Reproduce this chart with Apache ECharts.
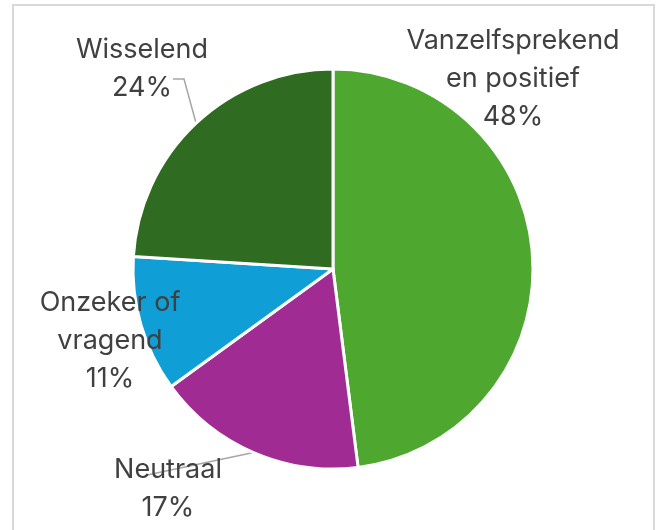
<!DOCTYPE html>
<html>
<head>
<meta charset="utf-8">
<script src="https://cdn.jsdelivr.net/npm/echarts@6/dist/echarts.min.js"></script>
<style>
  html, body { margin: 0; padding: 0; background: #fff; }
  #main { width: 657px; height: 530px; }
</style>
</head>
<body>
<div id="main"></div>
<script>
// data
var categories = ['Vanzelfsprekend\nen positief', 'Neutraal', 'Onzeker of\nvragend', 'Wisselend'];
var values = [48, 17, 11, 24];
var colors = ['#4EA72E', '#A02B93', '#0F9ED5', '#2F6B21'];
var showLine = [false, true, false, true];

// where each label sits (center x, top y)
var labelPos = [[513, 22], [168, 451], [110, 284], [142, 31]];

var chart = echarts.init(document.getElementById('main'));

var option = {
  animation: false,
  graphic: [{
    type: 'rect',
    shape: { x: 13, y: 5, width: 641, height: 540 },
    style: { fill: 'none', stroke: '#d9d9d9', lineWidth: 2 },
    silent: true
  }],
  series: [{
    type: 'pie',
    center: [333, 269],
    radius: [0, 200],
    startAngle: 90,
    clockwise: true,
    data: categories.map(function (c, i) {
      return {
        name: c,
        value: values[i],
        itemStyle: { color: colors[i] },
        labelLine: { show: showLine[i] }
      };
    }),
    itemStyle: { borderColor: '#fff', borderWidth: 3 },
    label: {
      show: true,
      position: 'outside',
      formatter: '{b}\n{c}%',
      fontFamily: 'Inter, "Noto Sans", sans-serif',
      fontSize: 27,
      lineHeight: 38,
      color: '#404040',
      align: 'center',
      overflow: 'none',
      width: 300
    },
    labelLine: {
      lineStyle: { color: '#a6a6a6', width: 1.5 },
      length: 10,
      length2: 10
    },
    labelLayout: function (p) {
      var pos = labelPos[p.dataIndex];
      var res = { x: pos[0], y: pos[1], align: 'center', verticalAlign: 'top' };
      var start = p.labelLinePoints && p.labelLinePoints[0];
      if (start && p.dataIndex === 3) {
        // Wisselend: up from slice, then short hop left to the "24%" line
        res.labelLinePoints = [start, [pos[0] + 42, pos[1] + 48], [pos[0] + 31, pos[1] + 48]];
      } else if (start && p.dataIndex === 1) {
        res.labelLinePoints = [start, [pos[0] - 21, pos[1] + 24], [pos[0] - 21, pos[1] + 24]];
      }
      return res;
    }
  }]
};

chart.setOption(option);
</script>
</body>
</html>
